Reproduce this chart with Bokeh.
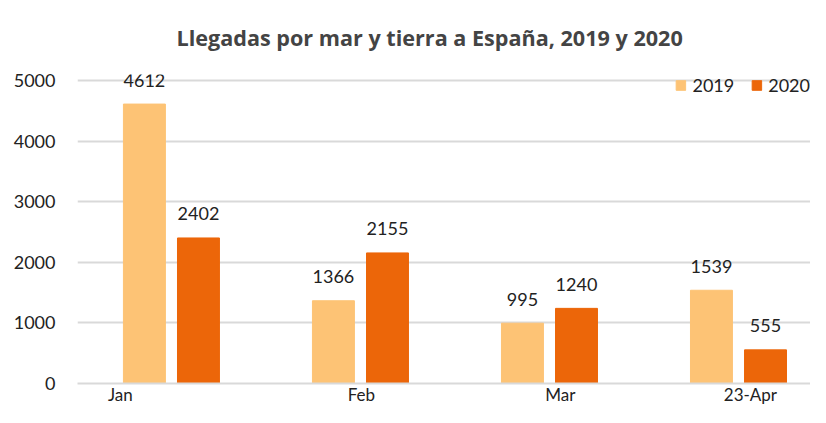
from bokeh.plotting import figure
from bokeh.models import ColumnDataSource, FixedTicker, Range1d, Legend, LegendItem
from bokeh.embed import file_html
from bokeh.resources import INLINE
from bokeh.core.properties import value

categories = ["Jan", "Feb", "Mar", "23-Apr"]
v2019 = [4612, 1366, 995, 1539]
v2020 = [2402, 2155, 1240, 555]
series_names = ["2019", "2020"]
c2019 = "#FDC375"
c2020 = "#EC6609"

FONT = "Lato"
TFONT = "Open Sans"
idx = list(range(len(categories)))
off = 0.143
bw = 0.222

s19 = ColumnDataSource(dict(x=[i - off for i in idx], top=v2019, lab=[str(v) for v in v2019]))
s20 = ColumnDataSource(dict(x=[i + off for i in idx], top=v2020, lab=[str(v) for v in v2020]))

p = figure(width=810, height=407, output_backend="svg", toolbar_location=None,
           x_range=Range1d(-0.497, 3.381), y_range=Range1d(0, 5100),
           min_border_left=77, min_border_right=0, min_border_bottom=0, min_border_top=74)
p.outline_line_color = None
p.background_fill_color = "white"

p.title.text = "Llegadas por mar y tierra a España, 2019 y 2020"
p.title.text_font = TFONT
p.title.text_font_style = "bold"
p.title.text_font_size = "21.6px"
p.title.align = "left"
p.title.offset = 99
p.title.vertical_align = "top"
p.title.standoff = 42

r1 = p.vbar(x="x", top="top", width=bw, source=s19, color=c2019)
r2 = p.vbar(x="x", top="top", width=bw, source=s20, color=c2020)

for s in (s19, s20):
    p.text(x="x", y="top", text="lab", source=s, text_align="center", text_baseline="middle",
           y_offset=-24, text_font=value(FONT), text_font_size="18px", text_color="#222222")

p.yaxis.ticker = FixedTicker(ticks=[0, 1000, 2000, 3000, 4000, 5000])
p.yaxis.axis_line_color = None
p.yaxis.major_tick_line_color = None
p.yaxis.minor_tick_line_color = None
p.yaxis.major_tick_out = 0
p.yaxis.major_label_standoff = 22
p.yaxis.major_label_text_font = FONT
p.yaxis.major_label_text_font_size = "18px"
p.yaxis.major_label_text_color = "#222222"

label_pos = [-0.27, 0.005, 0.058, 0.063]
p.xaxis.ticker = FixedTicker(ticks=[i + d for i, d in zip(idx, label_pos)])
p.xaxis.major_label_overrides = {i + d: c for i, d, c in zip(idx, label_pos, categories)}
p.xaxis.axis_line_color = "#D9D9D9"
p.xaxis.axis_line_width = 2
p.xaxis.major_tick_line_color = None
p.xaxis.minor_tick_line_color = None
p.xaxis.major_tick_out = 0
p.xaxis.major_tick_in = 0
p.xaxis.axis_label_standoff = 0
p.xaxis.major_label_standoff = 0
p.xaxis.major_label_text_font = FONT
p.xaxis.major_label_text_font_size = "17px"
p.xaxis.major_label_text_color = "#222222"

p.xgrid.grid_line_color = None
p.ygrid.grid_line_color = "#D9D9D9"
p.ygrid.grid_line_width = 2

legend = Legend(items=[LegendItem(label=series_names[0], renderers=[r1]),
                       LegendItem(label=series_names[1], renderers=[r2])],
                location="top_right", orientation="horizontal")
legend.background_fill_alpha = 0
legend.border_line_color = None
legend.label_text_font = FONT
legend.label_text_font_size = "18px"
legend.label_text_color = "#222222"
legend.glyph_width = 12
legend.glyph_height = 12
legend.spacing = 16
legend.label_standoff = 6
legend.margin = 0
legend.padding = 2
p.add_layout(legend, "center")

open("out.html", "w").write(file_html(p, INLINE))
